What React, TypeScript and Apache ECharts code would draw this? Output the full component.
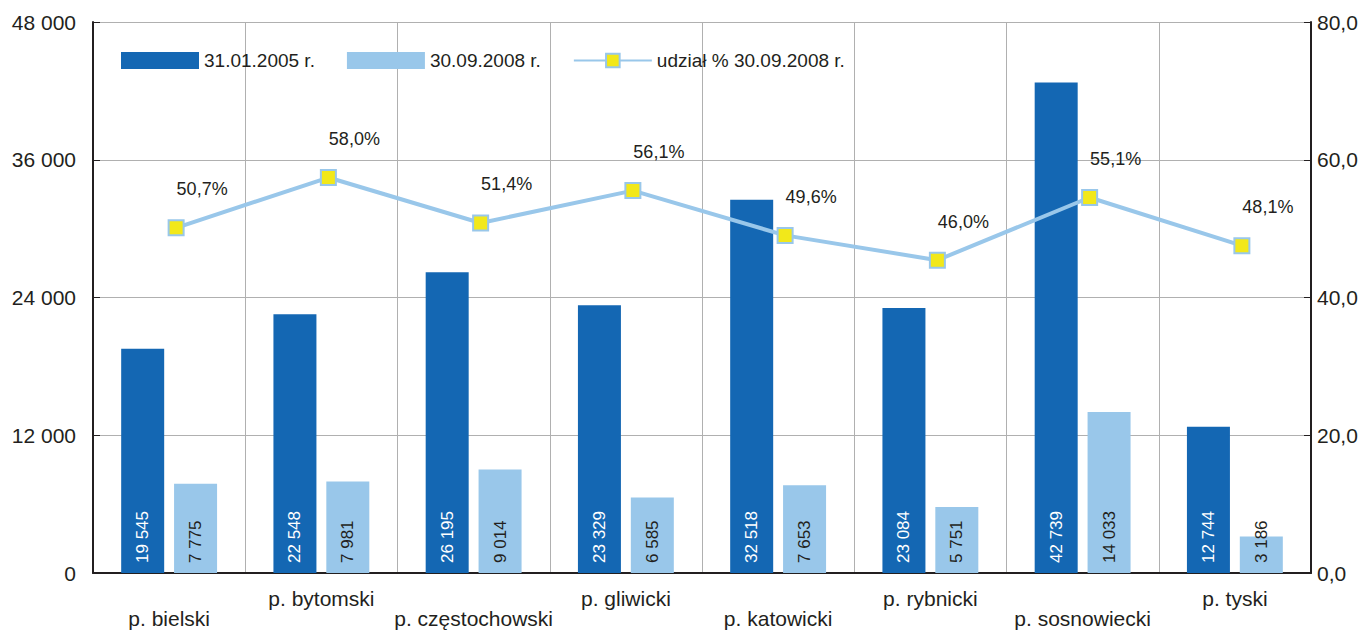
import React, { useEffect, useRef } from "react";
import * as echarts from "echarts";

const categories = [
  "p. bielski",
  "p. bytomski",
  "p. częstochowski",
  "p. gliwicki",
  "p. katowicki",
  "p. rybnicki",
  "p. sosnowiecki",
  "p. tyski",
];
const values2005 = [19545, 22548, 26195, 23329, 32518, 23084, 42739, 12744];
const values2008 = [7775, 7981, 9014, 6585, 7653, 5751, 14033, 3186];
const share2008 = [50.7, 58.0, 51.4, 56.1, 49.6, 46.0, 55.1, 48.1];
const seriesNames = ["31.01.2005 r.", "30.09.2008 r.", "udział % 30.09.2008 r."];

const fmtThousands = (v: number) =>
  String(Math.round(v)).replace(/\B(?=(\d{3})+(?!\d))/g, " ");
const fmtComma = (v: number, d: number) => v.toFixed(d).replace(".", ",");

const FONT = "'Liberation Sans', Arial, Helvetica, sans-serif";
const TXT = "#231f20";

export default function App() {
  const ref = useRef<HTMLDivElement>(null);
  useEffect(() => {
    if (!ref.current) return;
    const chart = echarts.init(ref.current, undefined, { renderer: "svg" });
    chart.setOption({
      animation: false,
      textStyle: { fontFamily: FONT },
      legend: {
        left: 116,
        top: 46,
        itemWidth: 78,
        itemHeight: 17,
        itemGap: 32,
        textStyle: { fontSize: 19, color: TXT, fontFamily: FONT },
        data: [
          { name: seriesNames[0], icon: "rect" },
          { name: seriesNames[1], icon: "rect" },
          { name: seriesNames[2] },
        ],
      },
      grid: [
        { left: 93, right: 60, top: 22, bottom: 58 },
        { left: 100, right: 53, top: 26, bottom: 54 },
      ],
      xAxis: [
        {
          type: "category",
          gridIndex: 0,
          data: categories,
          axisLine: { lineStyle: { color: "#231f20", width: 2 } },
          axisTick: { inside: true, length: 6, lineStyle: { color: "#231f20" } },
          splitLine: { show: true, lineStyle: { color: "#b0b0b0", width: 1 } },
          axisLabel: {
            fontSize: 21,
            color: TXT,
            fontFamily: FONT,
            margin: 15,
            lineHeight: 20,
            interval: 0,
            formatter: (v: string, i: number) => (i % 2 === 0 ? "\n" + v : v),
          },
        },
        {
          type: "category",
          gridIndex: 1,
          data: categories,
          show: false,
        },
      ],
      yAxis: [
        {
          type: "value",
          gridIndex: 0,
          min: 0,
          max: 48000,
          interval: 12000,
          axisLine: { show: true, lineStyle: { color: "#231f20", width: 2 } },
          axisTick: { show: true, inside: true, length: 7, lineStyle: { color: "#231f20" } },
          splitLine: { show: true, lineStyle: { color: "#b0b0b0", width: 1 } },
          axisLabel: {
            fontSize: 21,
            color: TXT,
            fontFamily: FONT,
            margin: 17,
            formatter: (v: number) => fmtThousands(v),
          },
        },
        {
          type: "value",
          gridIndex: 0,
          position: "right",
          min: 0,
          max: 80,
          interval: 20,
          axisLine: { show: true, lineStyle: { color: "#231f20", width: 2 } },
          axisTick: { show: true, inside: true, length: 7, lineStyle: { color: "#231f20" } },
          splitLine: { show: false },
          axisLabel: {
            fontSize: 21,
            color: TXT,
            fontFamily: FONT,
            margin: 6,
            formatter: (v: number) => fmtComma(v, 1),
          },
        },
        {
          type: "value",
          gridIndex: 1,
          min: 0,
          max: 80,
          show: false,
          splitLine: { show: false },
        },
      ],
      series: [
        {
          name: seriesNames[0],
          type: "bar",
          xAxisIndex: 0,
          yAxisIndex: 0,
          data: values2005,
          barWidth: 43,
          barGap: "23%",
          itemStyle: { color: "#1467b3" },
          label: {
            show: true,
            position: "insideBottom",
            rotate: 90,
            align: "left",
            verticalAlign: "middle",
            distance: 10,
            fontSize: 17,
            color: "#ffffff",
            fontFamily: FONT,
            formatter: (p: any) => fmtThousands(p.value),
          },
        },
        {
          name: seriesNames[1],
          type: "bar",
          xAxisIndex: 0,
          yAxisIndex: 0,
          data: values2008,
          barWidth: 43,
          itemStyle: { color: "#99c7ea" },
          label: {
            show: true,
            position: "insideBottom",
            rotate: 90,
            align: "left",
            verticalAlign: "middle",
            distance: 10,
            fontSize: 17,
            color: TXT,
            fontFamily: FONT,
            formatter: (p: any) => fmtThousands(p.value),
          },
        },
        {
          name: seriesNames[2],
          type: "line",
          xAxisIndex: 1,
          yAxisIndex: 2,
          data: share2008,
          symbol: "rect",
          symbolSize: 15,
          lineStyle: { color: "#99c7ea", width: 4 },
          itemStyle: { color: "#f2e81a", borderColor: "#99c7ea", borderWidth: 2 },
          label: {
            show: true,
            position: "top",
            offset: [26, -16],
            fontSize: 18,
            color: TXT,
            fontFamily: FONT,
            formatter: (p: any) => fmtComma(p.value, 1) + "%",
          },
        },
      ],
    });
    return () => chart.dispose();
  }, []);
  return (
    <div
      ref={ref}
      style={{ position: "absolute", left: 0, top: 0, width: 1371, height: 631, background: "#fff" }}
    />
  );
}
